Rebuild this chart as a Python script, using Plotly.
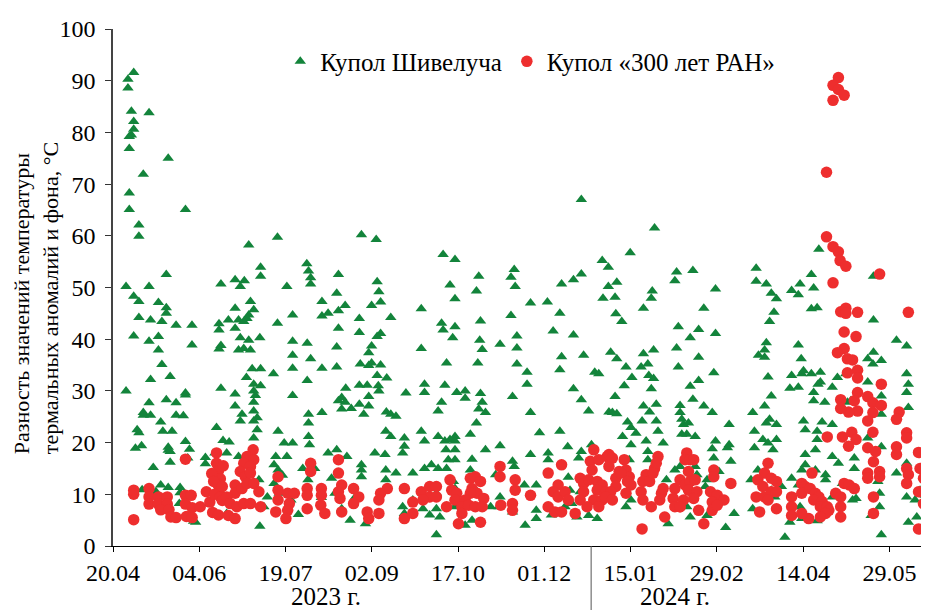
import pandas as pd
import plotly.graph_objects as go

# Day offsets are counted from 20.04.2023; values are temperature differences, °C
START = "2023-04-20"

shiv_p1 = [(10.8,91.6),(7.8,90.3),(7.8,88.6),(9.6,84.1),(18.8,83.8),(10.8,82.1),(10.8,80.6),(9.6,79.5),(8.5,79.2),(8.5,76.9),(28.8,75.0),(15.8,71.9),(8.5,68.3),(8.5,65.1),(37.8,65.1),(13.5,62.1),(13.5,59.9),(27.8,52.5),(6.8,50.2),(18.8,50.2),(56.3,50.7),(10.8,48.3),(13.5,47.3),(23.7,47.1),(27.8,46.1),(27.8,45.0),(13.5,44.2),(19.6,43.7),(25.5,43.4),(32.9,42.7),(41.2,42.7),(10.8,40.6),(23.7,40.5),(55.3,43.0),(55.3,41.8),(56.3,38.8),(55.3,38.1),(18.8,39.6),(23.7,37.9),(41.2,38.9),(25.5,35.1),(29.8,32.8),(19.6,32.2),(6.8,30.0),(56.3,30.5),(37.8,29.6),(37.8,29.2),(18.8,27.7),(27.8,28.3),(32.9,27.7),(15.8,25.8),(15.8,25.3),(19.6,25.3),(24.9,24.0),(32.9,25.3),(36.7,25.2),(12.6,22.5),(13.5,21.9),(26.0,22.2),(30.8,22.2),(54.0,22.9),(57.4,20.4),(37.8,20.2),(14.9,19.4),(28.8,19.1),(28.8,18.5),(29.8,18.3),(39.9,18.7),(39.0,17.0),(11.7,18.9),(29.8,16.2),(21.0,15.2),(53.2,18.0),(48.2,17.1),(48.2,15.9),(15.2,10.9),(24.9,11.8),(28.8,11.3),(35.0,11.3),(35.0,10.3),(34.6,8.2),(50.0,8.2),(43.1,4.6),(42.0,4.8),(22.4,10.5)]
shiv_p2 = [(85.8,59.7),(70.8,58.2),(77.0,53.9),(77.0,52.2),(101.1,54.6),(102.0,53.2),(103.1,51.9),(103.1,50.7),(63.7,51.5),(68.5,51.3),(66.4,50.2),(90.7,50.2),(71.7,47.3),(73.4,45.7),(70.8,44.7),(69.9,44.0),(63.7,46.0),(60.2,43.7),(65.5,43.7),(63.7,42.1),(68.2,43.4),(85.8,43.1),(93.7,44.7),(109.0,47.3),(109.0,44.5),(112.2,45.0),(66.4,40.3),(70.8,39.8),(76.6,40.3),(65.5,37.9),(68.2,38.2),(71.7,37.9),(93.7,39.6),(101.3,39.2),(93.7,36.9),(103.1,36.2),(93.7,34.4),(109.0,34.4),(72.6,34.3),(77.0,34.3),(83.7,33.3),(69.6,32.6),(73.4,31.3),(77.0,31.0),(73.4,30.0),(74.3,29.1),(73.4,27.8),(73.4,26.1),(75.2,24.8),(101.3,32.0),(93.7,29.1),(63.7,29.4),(63.7,27.1),(109.0,25.8),(67.3,25.5),(66.4,24.2),(73.4,24.2),(75.2,22.5),(73.4,20.9),(86.1,22.2),(102.0,25.5),(102.0,23.8),(102.0,21.2),(60.6,20.1),(59.3,18.0),(89.3,19.9),(93.7,19.9),(90.7,17.3),(102.5,19.6),(112.2,18.0),(65.5,17.3),(84.9,17.3),(84.0,15.7),(86.1,14.7),(88.4,13.7),(99.0,15.0),(105.2,15.0),(114.0,13.1),(76.1,12.8),(55.8,11.8),(56.7,10.2),(80.5,9.5),(84.0,12.1),(86.7,10.2),(78.7,7.6),(96.7,6.1),(76.6,3.8),(101.7,12.8),(108.7,9.4),(115.8,10.2),(59.3,6.3),(70.8,8.2),(92.8,8.9)]
shiv_p3 = [(129.6,60.2),(137.3,59.3),(172.2,56.4),(178.4,55.4),(117.6,52.5),(137.8,51.1),(138.7,49.2),(139.6,47.2),(134.9,46.5),(116.7,48.9),(117.6,45.5),(121.1,46.5),(175.8,50.5),(178.4,47.8),(160.8,45.9),(144.9,44.2),(128.5,44.0),(171.4,43.1),(172.2,41.8),(117.6,42.1),(178.4,42.4),(177.2,40.3),(128.5,41.3),(139.6,41.1),(137.8,40.5),(134.9,38.7),(133.4,37.4),(134.9,35.4),(160.8,38.2),(116.7,38.5),(174.0,35.4),(129.0,35.2),(133.4,34.9),(139.6,35.0),(116.7,34.6),(137.8,33.0),(142.8,32.5),(138.4,31.0),(138.7,30.0),(128.5,31.1),(132.6,31.1),(162.5,31.3),(162.5,29.7),(173.1,31.1),(152.8,29.6),(121.4,30.5),(119.3,28.7),(117.6,28.1),(121.1,27.8),(124.3,26.6),(119.3,26.5),(133.4,28.9),(133.4,27.1),(128.5,27.4),(130.8,25.5),(171.4,27.8),(169.6,26.1),(179.3,29.7),(142.6,25.9),(144.9,25.5),(147.6,25.1),(142.3,22.2),(144.9,21.2),(152.0,20.9),(152.0,19.3),(151.1,18.0),(160.8,22.2),(162.5,20.3),(169.6,21.2),(173.1,20.3),(175.8,20.6),(178.4,21.2),(173.7,18.6),(174.9,16.7),(116.7,18.6),(136.6,18.0),(141.9,17.7),(129.6,15.7),(129.6,14.7),(129.6,13.4),(122.0,17.3),(142.3,14.7),(147.6,14.1),(142.3,12.8),(156.4,14.1),(162.5,15.0),(166.1,15.7),(169.6,15.0),(174.0,15.0),(178.4,16.7),(151.1,7.6),(152.0,6.3),(123.7,5.0),(131.7,4.3),(165.2,6.0),(170.5,5.6),(168.7,2.2),(119.3,7.2),(126.4,9.5),(156.4,8.9),(161.7,7.2),(168.7,7.2),(168.7,10.2)]
shiv_p4 = [(190.8,52.2),(189.6,49.3),(209.3,53.5),(207.6,52.0),(209.8,50.2),(234.0,50.7),(217.8,47.0),(226.6,47.2),(233.1,45.0),(207.6,44.6),(191.7,43.5),(229.6,41.6),(191.3,39.8),(192.6,38.0),(190.3,35.4),(201.9,39.0),(210.7,40.6),(210.7,38.3),(210.7,35.2),(234.0,36.6),(233.1,34.1),(216.0,33.6),(216.0,31.3),(183.7,30.0),(183.7,28.6),(191.7,29.5),(192.6,27.8),(190.8,26.5),(194.3,25.8),(189.6,23.8),(208.4,28.9),(217.8,25.8),(178.4,20.3),(186.4,21.6),(222.5,21.9),(233.1,22.2),(194.3,18.6),(201.9,19.4),(237.2,19.2),(178.4,18.6),(187.3,16.8),(217.8,17.7),(227.0,18.0),(227.0,16.7),(208.4,16.4),(209.3,15.4),(186.4,14.7),(177.6,12.5),(178.4,11.1),(178.4,9.2),(178.4,7.6),(199.6,13.8),(214.6,11.8),(220.8,11.8),(237.5,13.3),(201.9,9.5),(197.0,7.6),(201.4,7.6),(220.8,6.9),(220.8,5.3),(208.4,6.6),(215.0,4.0),(228.7,6.0),(235.8,7.6),(183.7,4.0),(187.3,5.0),(189.9,10.5)]
shiv_p5 = [(244.3,67.0),(282.5,61.5),(269.8,56.7),(255.2,55.2),(258.4,53.9),(240.2,51.5),(244.3,52.6),(258.4,50.2),(262.8,51.0),(255.6,47.9),(261.9,48.1),(281.3,49.3),(280.8,47.9),(276.7,46.0),(294.0,53.0),(293.1,51.3),(262.3,44.9),(265.4,43.4),(294.9,42.4),(240.2,40.8),(245.5,36.9),(259.6,37.5),(262.8,36.2),(267.6,34.6),(270.7,32.6),(276.7,37.2),(282.0,37.9),(279.0,35.2),(275.5,34.6),(294.0,38.3),(294.9,34.6),(251.3,33.6),(253.4,33.3),(279.5,33.0),(282.0,32.4),(280.8,30.4),(266.7,31.0),(240.2,30.4),(244.3,28.3),(261.9,28.9),(258.7,25.9),(262.8,25.6),(260.5,25.8),(276.7,27.1),(283.4,27.4),(279.9,25.9),(295.8,27.2),(295.8,25.8),(296.7,24.5),(248.1,26.1),(268.4,24.0),(270.2,22.9),(265.8,21.2),(272.8,21.8),(270.2,19.6),(276.0,24.2),(283.4,24.2),(284.3,22.2),(278.1,20.3),(287.0,19.9),(244.3,18.3),(242.9,17.0),(249.6,19.6),(269.3,16.7),(279.0,18.3),(279.0,16.7),(293.1,14.7),(295.8,15.4),(238.4,10.8),(239.3,8.2),(243.7,10.5),(267.6,7.6),(270.2,8.9),(242.0,5.6),(248.1,5.9),(252.6,5.3),(289.6,4.3),(288.7,12.8)]
shiv_p6 = [(302.5,53.3),(314.3,49.7),(308.2,46.0),(335.5,53.7),(335.5,51.2),(340.8,50.7),(343.4,48.9),(346.1,47.8),(354.0,49.4),(358.4,50.7),(357.5,48.6),(344.8,45.2),(342.5,43.4),(305.5,41.9),(301.1,40.3),(314.3,41.1),(340.8,39.3),(339.9,37.9),(336.7,36.9),(339.9,36.5),(357.5,38.9),(305.5,36.5),(313.4,33.5),(354.0,33.0),(353.1,30.5),(357.5,30.7),(359.3,33.3),(341.7,32.7),(301.1,30.9),(305.5,32.0),(302.5,28.4),(343.4,29.0),(339.9,27.1),(308.2,27.1),(312.6,25.8),(333.7,25.8),(342.5,24.5),(346.1,23.5),(340.8,23.8),(321.4,23.5),(297.6,23.5),(300.2,23.8),(299.3,21.6),(303.7,21.2),(296.7,21.6),(314.3,20.3),(312.6,18.8),(313.4,17.0),(321.4,19.6),(320.5,19.0),(334.6,22.2),(334.6,19.0),(339.0,20.6),(341.7,19.9),(346.1,20.6),(344.3,18.6),(322.3,16.4),(303.7,15.4),(304.6,13.8),(316.1,14.4),(332.8,12.8),(336.4,14.7),(354.0,13.1),(357.5,11.8),(359.3,14.7),(309.9,12.8),(309.0,11.5),(299.3,7.6),(301.1,5.6),(324.0,6.3),(309.9,5.9),(319.6,3.6),(333.7,7.2),(353.1,4.6),(350.5,1.7),(343.4,10.8),(345.2,9.5),(348.7,11.5),(358.4,7.6)]
shiv_p7 = [(368.2,57.4),(364.3,52.5),(365.5,49.9),(364.3,45.9),(367.3,46.1),(396.7,52.2),(396.7,43.7),(408.7,39.8),(414.0,38.7),(359.0,36.2),(360.2,33.9),(364.3,33.3),(369.0,33.6),(369.0,31.7),(367.8,31.3),(375.2,30.7),(377.9,32.6),(382.3,33.3),(393.7,36.2),(396.7,37.5),(400.8,35.9),(396.4,35.2),(393.7,31.7),(414.0,33.3),(414.9,31.3),(414.0,29.7),(414.9,26.8),(400.8,29.0),(400.8,25.5),(365.5,29.7),(365.5,28.1),(371.3,27.8),(383.1,27.8),(384.9,28.1),(360.2,24.2),(361.1,22.5),(369.9,24.0),(375.2,23.5),(367.3,22.2),(367.3,20.6),(366.4,18.6),(393.7,20.9),(400.8,19.2),(375.2,17.3),(378.4,16.0),(386.7,17.0),(386.7,15.0),(361.1,17.7),(361.1,15.7),(366.4,14.7),(371.7,13.8),(371.7,12.8),(408.7,14.1),(414.0,16.0),(380.5,12.1),(399.0,12.5),(399.9,10.2),(399.9,7.6),(395.5,5.9),(387.6,9.2),(385.8,8.9),(375.2,9.5),(414.0,9.5),(418.4,8.9),(421.0,10.8),(423.7,9.8),(367.3,4.9),(359.3,5.3),(414.9,4.6),(419.3,5.6),(400.8,2.2)]

ran_p1 = [(10.8,10.8),(10.8,10.0),(10.8,5.1),(18.8,11.1),(18.8,9.5),(18.8,8.1),(23.7,9.5),(23.7,8.1),(28.3,9.5),(28.3,8.1),(24.9,7.0),(29.2,7.0),(30.2,5.6),(32.9,5.5),(37.8,16.8),(37.8,9.8),(40.8,9.8),(37.8,8.1),(41.3,7.4),(38.3,5.7),(41.3,5.5),(45.5,7.6),(48.7,10.5),(50.5,8.5),(54.0,18.0),(54.0,16.0),(55.0,14.5),(56.0,13.0),(54.5,12.0),(55.5,11.0),(53.0,10.0),(56.0,9.5),(57.0,8.8),(51.5,14.0),(52.5,12.5),(57.5,15.5),(52.0,6.5),(55.0,6.0),(57.0,11.5)]
ran_p2 = [(73.1,18.6),(69.9,17.3),(73.4,16.7),(68.2,16.0),(71.7,15.4),(66.4,14.4),(69.0,13.4),(71.7,14.1),(63.7,11.8),(63.7,10.2),(67.3,11.1),(69.9,12.1),(73.4,12.1),(76.1,10.5),(59.3,9.5),(61.1,8.2),(64.6,7.6),(68.2,8.2),(71.7,8.2),(77.0,7.6),(60.2,5.9),(63.7,5.3),(86.1,13.4),(86.1,10.8),(86.1,8.9),(91.1,10.2),(94.6,10.2),(92.0,8.2),(91.1,6.9),(84.9,6.6),(90.2,5.3),(103.1,16.0),(103.1,14.4),(101.3,11.1),(101.3,9.8),(101.3,7.2),(108.7,11.1),(108.7,9.8),(108.4,7.9),(110.5,6.3)]
ran_p3 = [(117.6,16.7),(117.6,14.1),(119.3,11.8),(117.6,10.5),(118.4,9.2),(119.3,6.6),(125.5,11.1),(128.2,9.5),(125.5,8.2),(132.6,6.6),(133.4,5.3),(138.7,6.3),(143.1,11.1),(139.6,10.2),(138.7,8.9),(152.0,11.1),(156.4,8.5),(152.0,5.3),(156.4,6.3),(160.8,10.5),(165.2,11.5),(168.7,11.5),(165.2,9.5),(161.7,8.9),(168.7,9.5),(174.0,7.6),(175.8,12.8),(176.7,10.8),(179.3,10.2)]
ran_p4 = [(178.4,8.9),(186.4,13.1),(189.0,13.4),(191.7,12.5),(187.3,11.1),(189.9,10.2),(193.4,9.2),(186.4,10.2),(183.7,8.9),(182.0,7.6),(182.0,6.3),(185.5,7.9),(189.0,7.6),(192.6,7.6),(180.2,4.3),(191.7,4.6),(201.9,15.4),(201.9,13.4),(209.8,12.8),(209.8,10.8),(202.3,7.9),(208.4,8.2),(208.4,6.9),(217.8,9.8),(227.0,14.1),(234.0,15.7),(232.2,11.8),(229.6,10.5),(232.2,9.5),(235.8,10.5),(237.5,8.9),(227.0,7.6),(230.5,6.6),(234.0,6.6)]
ran_p5 = [(241.1,6.3),(250.8,18.6),(249.0,16.4),(249.9,14.7),(253.4,16.7),(257.8,17.3),(258.7,17.7),(260.5,17.0),(258.7,15.4),(264.0,14.4),(266.7,16.7),(267.6,14.7),(269.3,13.4),(270.2,11.8),(243.7,13.1),(245.5,12.1),(248.1,12.8),(245.5,10.5),(252.6,12.5),(255.2,11.8),(252.6,10.8),(262.3,13.1),(264.9,14.1),(262.3,11.5),(257.0,10.5),(259.6,10.5),(267.6,10.2),(268.4,12.5),(250.8,8.9),(255.2,8.9),(253.4,7.6),(257.0,9.5),(260.5,8.9),(243.7,8.9),(247.3,7.6),(278.1,13.8),(276.4,12.5),(279.9,12.5),(282.5,15.0),(284.3,17.3),(283.4,16.0),(281.7,14.1),(275.5,10.5),(276.4,8.9),(280.8,7.6),(285.2,8.9),(286.1,10.2),(287.0,11.1),(287.8,5.6),(276.0,3.3),(293.1,11.1),(292.2,9.2),(295.8,7.6),(293.1,7.6)]
ran_p6 = [(299.3,18.0),(298.4,16.7),(301.1,16.7),(302.9,16.7),(300.2,14.4),(295.8,12.8),(298.4,11.8),(301.1,12.5),(303.7,12.8),(300.2,10.8),(304.6,10.5),(302.9,9.2),(297.6,8.9),(305.5,6.9),(295.8,7.6),(313.4,14.7),(313.4,13.4),(311.7,10.5),(315.2,9.8),(312.6,8.5),(318.7,8.9),(312.6,6.9),(315.2,7.9),(308.2,4.3),(322.3,12.1),(341.7,16.0),(339.9,14.1),(343.4,13.1),(336.4,12.8),(346.1,12.5),(339.0,11.5),(335.5,9.5),(339.9,9.5),(343.4,10.5),(346.1,10.5),(341.7,8.9),(346.1,7.2),(337.3,6.6),(354.0,9.5),(354.0,7.6),(354.0,5.9)]
ran_p7 = [(378.4,90.6),(375.6,89.1),(378.4,88.3),(381.4,87.2),(375.6,86.2),(372.2,72.3),(372.2,59.8),(375.6,57.9),(378.4,56.9),(379.3,55.2),(382.3,54.1),(375.6,50.9),(399.9,52.6),(379.6,45.3),(382.3,46.0),(382.3,45.0),(388.4,45.2),(414.9,45.2),(381.4,41.4),(387.6,40.5),(381.4,38.2),(377.9,37.4),(383.1,36.2),(385.8,36.0),(388.4,34.0),(388.4,32.5),(383.1,33.5),(400.8,31.3),(388.4,29.7),(386.7,28.1),(379.6,28.3),(393.7,28.9),(396.4,27.7),(400.8,27.2),(388.4,26.1),(383.7,25.9),(379.6,26.6),(396.4,25.8),(393.7,24.2),(410.1,25.9),(408.7,24.5),(414.0,21.9),(414.0,20.9),(372.6,21.1),(380.5,21.1),(385.4,22.0),(387.6,20.6),(383.7,19.3),(396.4,22.0),(393.7,19.0),(397.8,18.3),(396.7,16.3),(408.7,19.2),(408.7,17.7),(420.2,18.1),(364.6,14.1),(359.3,12.1),(361.1,11.5),(359.3,10.2),(363.7,11.1),(366.4,10.2),(368.2,9.5),(365.5,8.9),(369.9,8.6),(369.0,7.6),(372.6,7.6),(373.4,6.9),(371.7,6.3),(369.0,5.6),(362.9,5.3),(359.3,6.3),(377.0,10.2),(379.6,9.5),(379.6,7.6),(379.6,5.6),(381.4,12.1),(384.0,11.8),(386.7,11.1),(393.7,14.1),(393.7,13.1),(399.9,14.4),(399.9,13.4),(396.7,9.5),(396.7,6.3),(414.0,15.0),(414.9,13.8),(414.0,12.1),(421.0,15.0),(422.8,15.0),(422.8,13.1),(420.2,10.5),(422.8,8.2),(420.2,3.3)]

tick_dates = ["2023-04-20", "2023-06-04", "2023-07-19", "2023-09-02", "2023-10-17",
              "2023-12-01", "2024-01-15", "2024-02-29", "2024-04-14", "2024-05-29"]
tick_text = ["20.04", "04.06", "19.07", "02.09", "17.10", "01.12", "15.01", "29.02", "14.04", "29.05"]
year_labels = ["2023 г.", "2024 г."]
year_label_dates = ["2023-08-09", "2024-02-07"]
year_split_date = "2023-12-25 10:00"
x_range = ["2023-04-20", "2024-06-18 16:00"]

series_names = ["Купол Шивелуча", "Купол «300 лет РАН»"]

def to_xy(*parts):
    pts = [p for part in parts for p in part]
    base = pd.Timestamp(START)
    xs = [base + pd.to_timedelta(d, unit="D") for d, _ in pts]
    ys = [v for _, v in pts]
    return xs, ys

sx, sy = to_xy(shiv_p1, shiv_p2, shiv_p3, shiv_p4, shiv_p5, shiv_p6, shiv_p7)
rx, ry = to_xy(ran_p1, ran_p2, ran_p3, ran_p4, ran_p5, ran_p6, ran_p7)

FONT = "Liberation Serif"
GREEN = "#13843b"
RED = "#ee2e2e"

fig = go.Figure()
fig.add_trace(go.Scatter(x=sx, y=sy, mode="markers", name=series_names[0],
                         marker=dict(symbol="triangle-up", size=10, color=GREEN, line=dict(width=0))))
fig.add_trace(go.Scatter(x=rx, y=ry, mode="markers", name=series_names[1],
                         marker=dict(symbol="circle", size=11.5, color=RED, line=dict(width=0))))

# the page body adds an 8 px offset, so margins are shifted to keep the plot area in place
fig.update_layout(
    width=929, height=610,
    margin=dict(l=105, r=8, t=19, b=72),
    paper_bgcolor="white", plot_bgcolor="white",
    font=dict(family=FONT, size=24, color="black"),
    showlegend=True,
    legend=dict(orientation="h", x=0.205, xanchor="left", y=0.937, yanchor="middle",
                font=dict(family=FONT, size=25, color="black"), bgcolor="rgba(0,0,0,0)",
                itemclick=False),
    xaxis=dict(type="date", range=x_range, tickvals=tick_dates, ticktext=tick_text,
               ticks="outside", ticklen=5, tickcolor="black", showline=True, linecolor="black",
               linewidth=1, showgrid=False, zeroline=False,
               tickfont=dict(family=FONT, size=24, color="black")),
    yaxis=dict(range=[0, 100], dtick=10, ticks="outside", ticklen=6, tickcolor="#333",
               showline=True, linecolor="#444", linewidth=1.5, showgrid=False, zeroline=False,
               ticklabelstandoff=5, tickfont=dict(family=FONT, size=24, color="black")),
)

fig.add_shape(type="line", xref="x", yref="paper", x0=year_split_date, x1=year_split_date,
              y0=0, y1=-0.14, line=dict(color="#555", width=1))
for lbl, d in zip(year_labels, year_label_dates):
    fig.add_annotation(text=lbl, xref="x", yref="paper", x=d, y=-0.097,
                       xanchor="center", yanchor="middle", showarrow=False,
                       font=dict(family=FONT, size=25, color="black"))

fig.add_annotation(text="Разность значений температуры<br>термальных аномалий и фона, °C",
                   xref="paper", yref="paper", x=-0.094, y=0.48, textangle=-90,
                   xanchor="center", yanchor="middle", showarrow=False, align="left",
                   font=dict(family=FONT, size=22, color="black"))

fig.write_html("out.html")
